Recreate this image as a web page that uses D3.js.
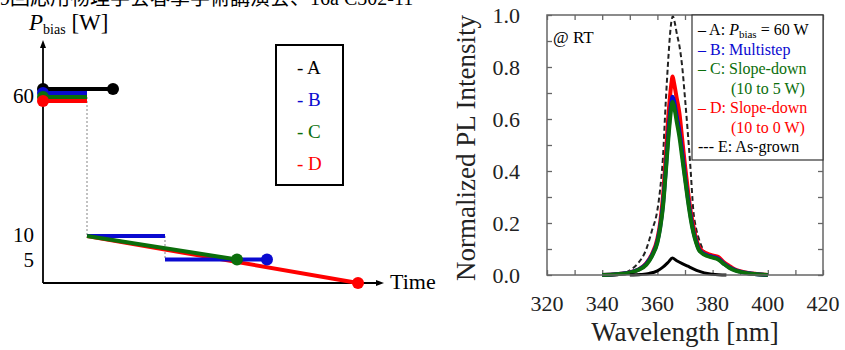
<!DOCTYPE html>
<html>
<head>
<meta charset="utf-8">
<script src="https://cdn.jsdelivr.net/npm/d3@7"></script>
<style>
  body { margin: 0; background: #fff; }
  svg { display: block; font-family: "Liberation Serif", "Noto Sans CJK JP", serif; }
</style>
</head>
<body>
<svg></svg>
<script>
// ---- left panel: bias power sequences ----
const seriesNames = ["A", "B", "C", "D"];
const seriesColors = ["#000000", "#0a0ad0", "#0b6e0b", "#ff0000"];
const powerTicks = [60, 10, 5];
// [time, power] segments for every sequence (arbitrary time units)
const seqA = [[0, 60], [70, 60]];
const seqB1 = [[0, 60], [44, 60]];
const seqB2 = [[44, 10], [122, 10]];
const seqB3 = [[122, 5], [224, 5]];
const seqC = [[0, 60], [44, 60]];
const seqC2 = [[44, 10], [194, 5]];
const seqD = [[0, 60], [44, 60]];
const seqD2 = [[44, 10], [315, 0]];
const guide1 = [[44, 60], [44, 10]];
const guide2 = [[122, 10], [122, 5]];

// ---- right panel: PL spectra ----
const wlTicks = [320, 340, 360, 380, 400, 420];
const yTicks = [0, 0.2, 0.4, 0.6, 0.8, 1.0];
const wlBCD = [340, 345, 350, 353, 356, 358, 360, 361, 362, 363, 364, 365, 365.5, 366, 367, 368, 369, 370, 371, 372, 373, 374, 375, 376, 378, 380, 382, 384, 386, 388, 390, 393, 396, 400];
const plD = [0, .003, .01, .02, .045, .08, .14, .2, .3, .45, .615, .73, .763, .74, .68, .62, .52, .42, .33, .25, .19, .14, .11, .095, .082, .075, .07, .05, .035, .022, .015, .008, .004, 0];
const plB = [0, .003, .01, .02, .043, .075, .13, .185, .27, .4, .55, .66, .686, .67, .61, .55, .47, .38, .3, .23, .17, .13, .1, .088, .076, .07, .063, .045, .03, .02, .013, .007, .003, 0];
const plC = [0, .003, .009, .019, .04, .072, .125, .18, .26, .39, .53, .64, .665, .65, .59, .53, .45, .37, .29, .22, .165, .125, .097, .085, .073, .067, .06, .043, .028, .018, .012, .006, .003, 0];
const wlE = [340, 345, 348, 351, 353, 356, 358, 360, 361, 362, 363, 364, 365, 365.6, 366.3, 367, 368, 369, 370, 371, 372, 373, 374, 375, 376, 378, 380, 382, 384, 386, 388, 390, 393, 396, 400];
const plE = [0, .003, .008, .025, .045, .1, .17, .25, .33, .45, .66, .84, .97, .995, .97, .93, .88, .8, .68, .55, .41, .25, .18, .14, .11, .08, .072, .068, .05, .035, .022, .014, .007, .003, 0];
const wlA = [350, 354, 357, 360, 362, 364, 365.4, 367, 369, 371, 373, 375, 377, 380, 385];
const plA = [0, .002, .006, .016, .03, .05, .065, .055, .044, .034, .024, .015, .008, .003, 0];

const width = 845, height = 350;
const svg = d3.select("svg").attr("width", width).attr("height", height);

svg.append("text")
  .attr("x", 0).attr("y", 5)
  .style("font-size", "20px")
  .text("9回応用物理学会春季学術講演会、16a C302-11");

// ================= left panel =================
const t_scale = d3.scaleLinear().domain([0, 340]).range([43, 383]);
const p_scale = d3.scaleLinear().domain([0, 10, 60]).range([283, 236, 97]);
const offset60 = [-8, -4, 0, 4]; // small shifts so the 60 W lines don't hide each other

const left = svg.append("g");

left.append("line")
  .attr("x1", t_scale(0)).attr("x2", t_scale(0))
  .attr("y1", p_scale(0)).attr("y2", 46)
  .attr("stroke", "#000").attr("stroke-width", 1.8);
left.append("path")
  .attr("d", `M${t_scale(0) - 3},${48} L${t_scale(0)},${40} L${t_scale(0) + 3},${48} Z`);
left.append("line")
  .attr("x1", t_scale(0)).attr("x2", 378)
  .attr("y1", p_scale(0)).attr("y2", p_scale(0))
  .attr("stroke", "#000").attr("stroke-width", 1.8);
left.append("path")
  .attr("d", `M${376},${p_scale(0) - 3} L${384},${p_scale(0)} L${376},${p_scale(0) + 3} Z`);

left.append("text")
  .attr("x", 390).attr("y", 289)
  .style("font-size", "22px")
  .text("Time");

const ptitle = left.append("text").attr("x", 29).attr("y", 30).style("font-size", "23px");
ptitle.append("tspan").style("font-style", "italic").text("P");
ptitle.append("tspan").attr("dy", 4).style("font-size", "14px").text("bias");
ptitle.append("tspan").attr("dy", -4).text(" [W]");

left.selectAll(".ptick")
  .data(powerTicks)
  .join("text")
  .attr("class", "ptick")
  .attr("x", 34)
  .attr("y", (d) => p_scale(d) + (d === 5 ? 3 : 1))
  .attr("text-anchor", "end")
  .attr("dominant-baseline", "middle")
  .style("font-size", "21px")
  .text((d) => d);

const seg = d3.line()
  .x((d) => t_scale(d[0]))
  .y((d) => p_scale(d[1]));

// dotted guides
[guide1, guide2].forEach((g) => {
  left.append("path")
    .attr("d", seg(g))
    .attr("fill", "none")
    .attr("stroke", "#999")
    .attr("stroke-width", 1.2)
    .attr("stroke-dasharray", "2,2");
});

function drawSeg(s, color, dy) {
  left.append("path")
    .attr("d", seg(s))
    .attr("transform", `translate(0,${dy})`)
    .attr("fill", "none")
    .attr("stroke", color)
    .attr("stroke-width", 4);
}

// 60 W holds
const holds = [seqA, seqB1, seqC, seqD];
holds.forEach((s, i) => drawSeg(s, seriesColors[i], offset60[i]));
// ramp-downs
drawSeg(seqD2, seriesColors[3], 0);
drawSeg(seqB2, seriesColors[1], 0);
drawSeg(seqB3, seriesColors[1], 0);
drawSeg(seqC2, seriesColors[2], 0);

// start dots
holds.forEach((s, i) => {
  left.append("circle")
    .attr("cx", t_scale(s[0][0]))
    .attr("cy", p_scale(s[0][1]) + offset60[i])
    .attr("r", 6)
    .attr("fill", seriesColors[i]);
});
// end dots
const ends = [[seqA[1], 0, -8], [seqB3[1], 1, 0], [seqC2[1], 2, 0], [seqD2[1], 3, 0]];
ends.forEach(([p, i, dy]) => {
  left.append("circle")
    .attr("cx", t_scale(p[0]))
    .attr("cy", p_scale(p[1]) + dy)
    .attr("r", 6)
    .attr("fill", seriesColors[i]);
});

// legend box
left.append("rect")
  .attr("x", 276).attr("y", 45)
  .attr("width", 67).attr("height", 140)
  .attr("fill", "none")
  .attr("stroke", "#000")
  .attr("stroke-width", 2);
left.selectAll(".leg")
  .data(seriesNames)
  .join("text")
  .attr("class", "leg")
  .attr("x", 297)
  .attr("y", (d, i) => 74 + i * 32)
  .attr("fill", (d, i) => seriesColors[i])
  .style("font-size", "19px")
  .text((d) => "- " + d);

// ================= right panel =================
const margin = { left: 547, right: 22, top: 15, bottom: 75 };
const x_scale = d3.scaleLinear().domain([320, 420]).range([margin.left, width - margin.right]);
const y_scale = d3.scaleLinear().domain([0, 1]).range([height - margin.bottom, margin.top]);
const frameColor = "#666";

const right = svg.append("g");

const minorX = d3.range(320, 421, 10);
const minorY = d3.range(0, 1.01, 0.1);

function tickStyle(g) {
  g.select(".domain").remove();
  g.selectAll("line").attr("stroke", frameColor).attr("stroke-width", 1.3);
}

right.append("g")
  .attr("transform", `translate(0,${y_scale(0)})`)
  .call(d3.axisBottom(x_scale).tickValues(minorX).tickSize(-5).tickFormat(""))
  .call(tickStyle);
right.append("g")
  .attr("transform", `translate(0,${y_scale(1)})`)
  .call(d3.axisTop(x_scale).tickValues(minorX).tickSize(-5).tickFormat(""))
  .call(tickStyle);
right.append("g")
  .attr("transform", `translate(${x_scale(320)},0)`)
  .call(d3.axisLeft(y_scale).tickValues(minorY).tickSize(-5).tickFormat(""))
  .call(tickStyle);
right.append("g")
  .attr("transform", `translate(${x_scale(420)},0)`)
  .call(d3.axisRight(y_scale).tickValues(minorY).tickSize(-5).tickFormat(""))
  .call(tickStyle);

right.selectAll(".xl")
  .data(wlTicks)
  .join("text")
  .attr("class", "xl")
  .attr("x", (d) => x_scale(d))
  .attr("y", 311)
  .attr("text-anchor", "middle")
  .style("font-size", "22px")
  .attr("fill", "#222")
  .text((d) => d);
right.selectAll(".yl")
  .data(yTicks)
  .join("text")
  .attr("class", "yl")
  .attr("x", 520)
  .attr("y", (d) => y_scale(d) + 8)
  .attr("text-anchor", "end")
  .style("font-size", "22px")
  .attr("fill", "#222")
  .text((d) => d.toFixed(1));

right.append("text")
  .attr("x", x_scale(370))
  .attr("y", 341)
  .attr("text-anchor", "middle")
  .style("font-size", "27px")
  .attr("fill", "#222")
  .text("Wavelength [nm]");
right.append("text")
  .attr("transform", `translate(475,148) rotate(-90)`)
  .attr("text-anchor", "middle")
  .style("font-size", "27px")
  .attr("fill", "#222")
  .text("Normalized PL Intensity");

const line_generator = d3.line()
  .x((d) => x_scale(d[0]))
  .y((d) => y_scale(d[1]))
  .curve(d3.curveMonotoneX);

const zip = (xs, ys) => xs.map((x, i) => [x, ys[i]]);

right.append("path")
  .attr("d", line_generator(zip(wlE, plE)))
  .attr("fill", "none").attr("stroke", "#222").attr("stroke-width", 2)
  .attr("stroke-dasharray", "5,3");
right.append("path")
  .attr("d", line_generator(zip(wlBCD, plD)))
  .attr("fill", "none").attr("stroke", seriesColors[3]).attr("stroke-width", 4);
right.append("path")
  .attr("d", line_generator(zip(wlBCD, plB)))
  .attr("fill", "none").attr("stroke", seriesColors[1]).attr("stroke-width", 4);
right.append("path")
  .attr("d", line_generator(zip(wlBCD, plC)))
  .attr("fill", "none").attr("stroke", seriesColors[2]).attr("stroke-width", 4);
right.append("path")
  .attr("d", line_generator(zip(wlA, plA)))
  .attr("fill", "none").attr("stroke", "#000").attr("stroke-width", 3);

// frame
right.append("rect")
  .attr("x", x_scale(320)).attr("y", y_scale(1))
  .attr("width", x_scale(420) - x_scale(320))
  .attr("height", y_scale(0) - y_scale(1))
  .attr("fill", "none")
  .attr("stroke", frameColor)
  .attr("stroke-width", 1.5);

right.append("text")
  .attr("x", 553).attr("y", 43)
  .style("font-size", "17px")
  .text("@ RT");

// legend
right.append("rect")
  .attr("x", 692).attr("y", y_scale(1))
  .attr("width", x_scale(420) - 692).attr("height", 145)
  .attr("fill", "#fff")
  .attr("stroke", "#333")
  .attr("stroke-width", 1.2);

const legendRows = [
  { text: "– A: ", color: seriesColors[0], x: 698 },
  { text: "– B: Multistep", color: seriesColors[1], x: 698 },
  { text: "– C: Slope-down", color: seriesColors[2], x: 698 },
  { text: "(10 to 5 W)", color: seriesColors[2], x: 731 },
  { text: "– D: Slope-down", color: seriesColors[3], x: 698 },
  { text: "(10 to 0 W)", color: seriesColors[3], x: 731 },
  { text: "--- E: As-grown", color: "#000", x: 698 }
];
legendRows.forEach((r, i) => {
  const t = right.append("text")
    .attr("x", r.x)
    .attr("y", 35 + i * 19.5)
    .attr("fill", r.color)
    .style("font-size", "16px")
    .text(r.text);
  if (i === 0) {
    t.append("tspan").style("font-style", "italic").text("P");
    t.append("tspan").attr("dy", 3).style("font-size", "11px").text("bias");
    t.append("tspan").attr("dy", -3).text(" = 60 W");
  }
});
</script>
</body>
</html>
